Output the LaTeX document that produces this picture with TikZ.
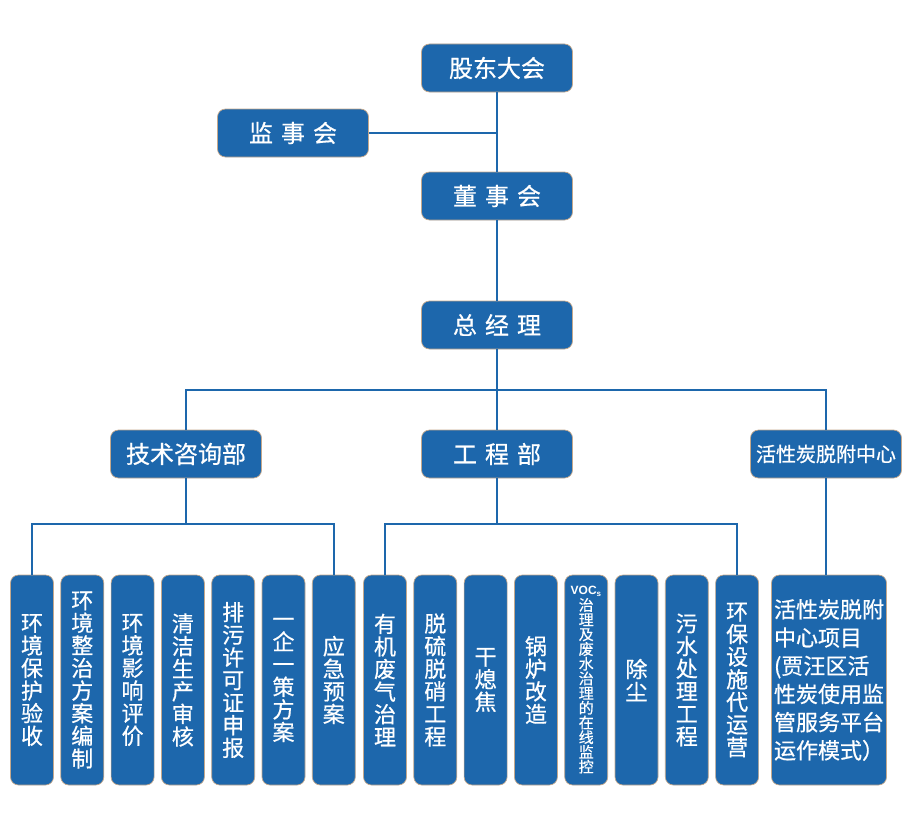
\documentclass[tikz,border=0pt]{standalone}
\usepackage{fontspec}
\usepackage{tikz}
\usetikzlibrary{positioning, calc}
\newfontfamily\cjk[FakeBold=0.6]{Noto Sans CJK SC}
\newfontfamily\latinsans{Liberation Sans}
\definecolor{boxblue}{RGB}{29,103,172}
\definecolor{boxedge}{RGB}{196,168,140}

\begin{document}
\begin{tikzpicture}[
    x=1pt, y=-1pt,
    unit/.style={draw=boxedge, line width=0.7pt, fill=boxblue, rounded corners=8pt, text=white, minimum width=151pt, minimum height=48pt, inner sep=0pt, font=\cjk\fontsize{24}{26}\selectfont},
    post/.style={draw=boxedge, line width=0.7pt, fill=boxblue, rounded corners=8pt, text=white, minimum width=43pt, minimum height=210pt, inner sep=0pt, align=center, font=\cjk\fontsize{22}{22.6}\selectfont},
    link/.style={draw=boxblue, line width=2pt}
]
    \useasboundingbox (0,0) rectangle (920,816);

    % Top levels
    \node[unit] (gddh) at (497,68) {股东大会};
    \node[unit] (jsh) at (293,133) {监\hspace{8pt}事\hspace{8pt}会};
    \node[unit] (dsh) at (497,196) {董\hspace{8pt}事\hspace{8pt}会};
    \node[unit] (zjl) at (497,325) {总\hspace{8pt}经\hspace{8pt}理};

    % Departments
    \node[unit] (jszx) at (186,454) {技术咨询部};
    \node[unit] (gcb) at (497,454) {工\hspace{8pt}程\hspace{8pt}部};
    \node[unit, font=\cjk\fontsize{20}{22}\selectfont] (hxt) at (826,454) {活性炭脱附中心};

    % Business under technical consulting
    \node[post] (hbys) at (32,680) {环\\境\\保\\护\\验\\收};
    \node[post] (hjzz) at (82.3,680) {环\\境\\整\\治\\方\\案\\编\\制};
    \node[post] (hjyx) at (132.6,680) {环\\境\\影\\响\\评\\价};
    \node[post] (qjsc) at (182.9,680) {清\\洁\\生\\产\\审\\核};
    \node[post] (pwxk) at (233.2,680) {排\\污\\许\\可\\证\\申\\报};
    \node[post] (yqyc) at (283.5,680) {一\\企\\一\\策\\方\\案};
    \node[post] (yjya) at (333.8,680) {应\\急\\预\\案};

    % Business under engineering
    \node[post] (yjfq) at (385,680) {有\\机\\废\\气\\治\\理};
    \node[post] (tltx) at (435.3,680) {脱\\硫\\脱\\硝\\工\\程};
    \node[post] (gxj) at (485.6,680) {干\\熄\\焦};
    \node[post] (glgz) at (535.9,680) {锅\\炉\\改\\造};
    \node[post, font=\cjk\fontsize{15}{14.7}\selectfont] (vocs) at (586.2,680) {{\latinsans\bfseries\fontsize{12}{12}\selectfont VOC\textsubscript{s}}\\[1pt]治\\理\\及\\废\\水\\治\\理\\的\\在\\线\\监\\控};
    \node[post] (cc) at (636.5,680) {除\\尘};
    \node[post] (wscl) at (686.8,680) {污\\水\\处\\理\\工\\程};
    \node[post] (hbss) at (737.1,680) {环\\保\\设\\施\\代\\运\\营};

    % Carbon centre project
    \node[post, minimum width=115pt, align=left, font=\cjk\fontsize{22}{28.2}\selectfont] (hxtxm) at (829,680) {活性炭脱附\\中心项目\\(贾汪区活\\性炭使用监\\管服务平台\\运作模式）};

    % Connectors, top part
    \draw[link] (gddh) -- (dsh);
    \draw[link] (jsh) -- (jsh -| gddh);
    \draw[link] (dsh) -- (zjl);
    \coordinate (busa) at (497,390);
    \draw[link] (zjl) -- (busa);
    \draw[link] (gcb) -- (busa);
    \draw[link] (jszx) |- (busa) -| (hxt);

    % Connectors, bottom part
    \coordinate (busb) at (186,524);
    \coordinate (busc) at (497,524);
    \draw[link] (jszx) -- (busb);
    \draw[link] (hbys) |- (busb) -| (yjya);
    \draw[link] (gcb) -- (busc);
    \draw[link] (yjfq) |- (busc) -| (hbss);
    \draw[link] (hxtxm.north -| hxt) -- (hxt);
\end{tikzpicture}
\end{document}
